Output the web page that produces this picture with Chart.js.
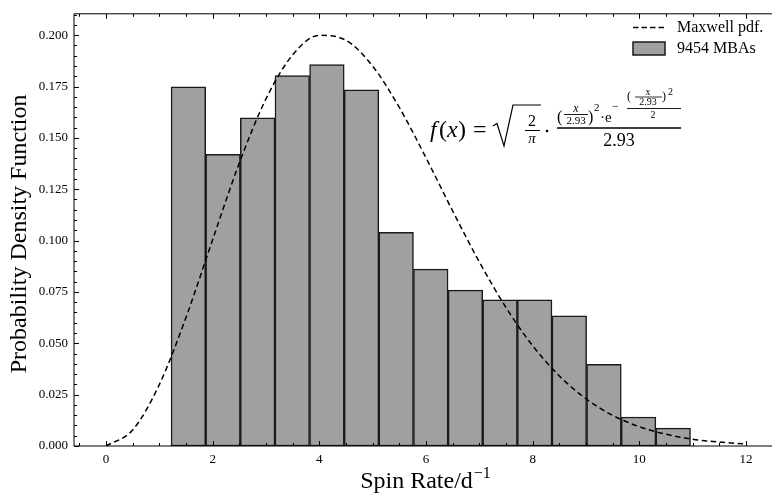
<!DOCTYPE html>
<html>
<head>
<meta charset="utf-8">
<script src="https://cdn.jsdelivr.net/npm/chart.js@4.4.0/dist/chart.umd.min.js"></script>
<style>
  html, body { margin: 0; padding: 0; background: #fff; overflow: hidden; }
</style>
</head>
<body>
<canvas id="spinChart" width="780" height="495"></canvas>
<script>
// histogram of spin rates (density)
const binEdges = [1.220, 1.869, 2.519, 3.168, 3.817, 4.467, 5.116, 5.765, 6.414, 7.064, 7.713, 8.362, 9.012, 9.661, 10.310, 10.960];
const binDensity = [0.1748, 0.1420, 0.1597, 0.1803, 0.1857, 0.1734, 0.1040, 0.0861, 0.0759, 0.0711, 0.0711, 0.0634, 0.0398, 0.0141, 0.0087];

// dashed Maxwell curve, sampled from the figure
const pdfX = [0, 0.5, 1, 1.5, 2, 2.5, 3, 3.5, 4, 4.5, 5, 5.5, 6, 6.5, 7, 7.5, 8, 8.5, 9, 9.5, 10, 10.5, 11, 11.5, 12];
const pdfY = [0, 0.0078, 0.0299, 0.0626, 0.1005, 0.1378, 0.1690, 0.1904, 0.1999, 0.1975, 0.1849, 0.1648, 0.1403, 0.1144, 0.0896, 0.0674, 0.0488, 0.0341, 0.0230, 0.0149, 0.0094, 0.0057, 0.0033, 0.0019, 0.0010];

const xTicks = [0, 2, 4, 6, 8, 10, 12];
const yTicks = [0, 0.025, 0.05, 0.075, 0.1, 0.125, 0.15, 0.175, 0.2];

const SERIF = "'Liberation Serif', 'DejaVu Serif', serif";

const barData = binDensity.map((v, i) => ({ x: (binEdges[i] + binEdges[i + 1]) / 2, y: v }));
const lineData = pdfX.map((x, i) => ({ x: x, y: pdfY[i] }));

// frame + inward ticks like the matplotlib style
const frameTicks = {
    id: 'frameTicks',
    afterDatasetsDraw(chart) {
        const { ctx, chartArea: a, scales: { x, y } } = chart;
        ctx.save();
        ctx.strokeStyle = '#000';
        ctx.lineWidth = 1;
        ctx.beginPath();
        ctx.moveTo(a.left, a.top); ctx.lineTo(a.right, a.top);
        ctx.moveTo(a.left, a.bottom); ctx.lineTo(a.right, a.bottom);
        ctx.moveTo(a.left, a.top); ctx.lineTo(a.left, a.bottom);
        ctx.moveTo(a.right, a.top); ctx.lineTo(a.right, a.bottom);
        for (let v = -0.5; v <= 12.6; v += 0.5) {
            const px = Math.round(x.getPixelForValue(v)) + 0.5;
            const len = xTicks.includes(v) ? 5 : 3;
            ctx.moveTo(px, a.bottom); ctx.lineTo(px, a.bottom - len);
            ctx.moveTo(px, a.top); ctx.lineTo(px, a.top + len);
        }
        for (let k = 0; k <= 42; k++) {
            const v = k * 0.005;
            const py = Math.round(y.getPixelForValue(v)) + 0.5;
            const len = k % 5 === 0 ? 5 : 3;
            ctx.moveTo(a.left, py); ctx.lineTo(a.left + len, py);
            ctx.moveTo(a.right, py); ctx.lineTo(a.right - len, py);
        }
        ctx.stroke();
        ctx.restore();
    }
};

// axis titles, legend and the formula text
const annotations = {
    id: 'annotations',
    afterDraw(chart) {
        const ctx = chart.ctx;
        const a = chart.chartArea;
        ctx.save();
        ctx.fillStyle = '#000';
        ctx.strokeStyle = '#000';
        ctx.textBaseline = 'alphabetic';

        // x title with superscript
        ctx.font = '24px ' + SERIF;
        const main = 'Spin Rate/d';
        const wMain = ctx.measureText(main).width;
        ctx.font = '16px ' + SERIF;
        const sup = '\u22121';
        const wSup = ctx.measureText(sup).width;
        const x0 = 425 - (wMain + wSup) / 2;
        ctx.font = '24px ' + SERIF;
        ctx.textAlign = 'left';
        ctx.fillText(main, x0, 488);
        ctx.font = '16px ' + SERIF;
        ctx.fillText(sup, x0 + wMain + 1, 478);

        // y title
        ctx.save();
        ctx.translate(20, (a.top + a.bottom) / 2 + 4);
        ctx.rotate(-Math.PI / 2);
        ctx.font = '24px ' + SERIF;
        ctx.textAlign = 'center';
        ctx.textBaseline = 'middle';
        ctx.fillText('Probability Density Function', 0, 0);
        ctx.restore();

        // legend
        const ds = chart.data.datasets;
        ctx.lineWidth = 1.5;
        ctx.setLineDash([5.5, 3]);
        ctx.beginPath();
        ctx.moveTo(633, 27.5); ctx.lineTo(665, 27.5);
        ctx.stroke();
        ctx.setLineDash([]);
        ctx.fillStyle = '#a0a0a0';
        ctx.fillRect(633, 42, 32, 13);
        ctx.lineWidth = 1.5;
        ctx.strokeStyle = '#1a1a1a';
        ctx.strokeRect(633, 42, 32, 13);
        ctx.fillStyle = '#000';
        ctx.font = '16px ' + SERIF;
        ctx.textAlign = 'left';
        ctx.textBaseline = 'middle';
        ctx.fillText(ds[0].label, 677, 28);
        ctx.fillText(ds[1].label, 677, 49);

        // formula
        ctx.textBaseline = 'alphabetic';
        ctx.strokeStyle = '#000';
        const txt = (s, px, x, yb, align, italic) => {
            ctx.font = (italic ? 'italic ' : '') + px + 'px ' + SERIF;
            ctx.textAlign = align || 'left';
            ctx.fillText(s, x, yb);
        };
        const bar = (xa, xb, yy, w) => {
            ctx.lineWidth = w || 1;
            ctx.beginPath(); ctx.moveTo(xa, yy); ctx.lineTo(xb, yy); ctx.stroke();
        };
        txt('f', 24, 430, 137, 'left', true);
        txt('(', 24, 439, 137);
        txt('x', 24, 447, 137, 'left', true);
        txt(')', 24, 458, 137);
        txt('=', 24, 473, 137);
        ctx.lineWidth = 1.2;
        ctx.beginPath();
        ctx.moveTo(493, 126); ctx.lineTo(497, 123.5); ctx.lineTo(504, 146);
        ctx.lineTo(513, 105); ctx.lineTo(541, 105);
        ctx.stroke();
        txt('2', 16, 532, 126, 'center');
        bar(525, 540, 130.5, 1);
        txt('\u03c0', 15, 532, 143, 'center', true);
        ctx.beginPath(); ctx.arc(547, 131, 1.3, 0, Math.PI * 2); ctx.fill();
        bar(557, 681, 128, 1.5);
        txt('2.93', 18, 619, 146, 'center');
        // numerator
        txt('(', 16, 557, 122);
        txt('x', 12, 576, 112, 'center', true);
        bar(564, 588, 114.5, 0.9);
        txt('2.93', 11, 576, 124, 'center');
        txt(')', 16, 588, 122);
        txt('2', 11, 594, 111);
        txt('\u00b7e', 15, 600, 122);
        txt('\u2212', 12, 612, 110);
        txt('(', 12, 627, 100);
        txt('x', 10, 648, 95, 'center');
        bar(635, 662, 97, 0.8);
        txt('2.93', 10, 648, 105, 'center');
        txt(')', 12, 662, 100);
        txt('2', 10, 668, 95);
        bar(627, 681, 108.5, 0.9);
        txt('2', 10, 653, 118, 'center');

        ctx.restore();
    }
};

new Chart(document.getElementById('spinChart'), {
    type: 'bar',
    data: {
        datasets: [
            {
                type: 'line',
                label: 'Maxwell pdf.',
                data: lineData,
                borderColor: '#000',
                borderWidth: 1.5,
                borderDash: [5.5, 3.5],
                pointRadius: 0,
                cubicInterpolationMode: 'monotone',
                fill: false,
                order: 0
            },
            {
                type: 'bar',
                label: '9454 MBAs',
                data: barData,
                backgroundColor: '#a0a0a0',
                borderColor: '#1a1a1a',
                borderWidth: 1.5,
                borderSkipped: false,
                barPercentage: 1.0,
                categoryPercentage: 1.0,
                order: 1
            }
        ]
    },
    options: {
        responsive: false,
        devicePixelRatio: 1,
        animation: false,
        layout: { padding: { left: 0, right: 2, top: 7, bottom: 0 } },
        plugins: {
            legend: { display: false },
            tooltip: { enabled: false }
        },
        scales: {
            x: {
                type: 'linear',
                min: -0.6,
                max: 12.6,
                offset: false,
                grid: { display: false, drawTicks: false, offset: false },
                border: { display: false },
                afterBuildTicks: (s) => { s.ticks = xTicks.map(v => ({ value: v })); },
                afterFit: (s) => { s.height = 49; },
                ticks: {
                    color: '#000',
                    padding: 6,
                    font: { family: SERIF, size: 13 },
                    maxRotation: 0,
                    callback: (v) => String(v)
                }
            },
            y: {
                min: 0,
                max: 0.2104,
                grid: { display: false, drawTicks: false },
                border: { display: false },
                afterBuildTicks: (s) => { s.ticks = yTicks.map(v => ({ value: v })); },
                afterFit: (s) => { s.width = 74; },
                ticks: {
                    color: '#000',
                    padding: 6,
                    font: { family: SERIF, size: 13 },
                    callback: (v) => Number(v).toFixed(3)
                }
            }
        }
    },
    plugins: [frameTicks, annotations]
});
</script>
</body>
</html>
